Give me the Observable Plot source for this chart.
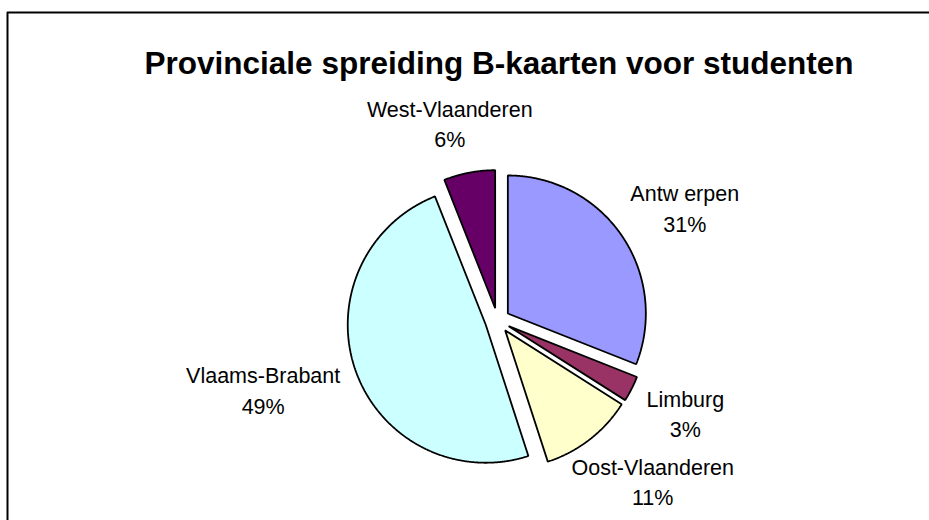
<!DOCTYPE html>
<html><head><meta charset="utf-8">
<script src="https://cdn.jsdelivr.net/npm/d3@7"></script>
<script src="https://cdn.jsdelivr.net/npm/@observablehq/plot@0.6"></script>
<style>
html,body{margin:0;padding:0;background:#fff;overflow:hidden;}
svg{display:block;}
</style></head><body>
<div id="chart"></div>
<script>
// ---- data ----
const title = "Provinciale spreiding B-kaarten voor studenten";
const provinces = ["Antwerpen", "Limburg", "Oost-Vlaanderen", "Vlaams-Brabant", "West-Vlaanderen"];
const labelNames = ["Antw erpen", "Limburg", "Oost-Vlaanderen", "Vlaams-Brabant", "West-Vlaanderen"];
const shares = [31, 3, 11, 49, 6];
// ---- style ----
const colors = ["#9999FF", "#993366", "#FFFFCC", "#CCFFFF", "#660066"];
const font = "Liberation Sans, Arial, sans-serif";
const labelSize = 21.5;
// ---- layout (pixel units relative to pie centre) ----
const W = 929, H = 520, cx = 497, cy = 320;
const R = 138, explode = 12.5, labelR = 172, labelHalfH = 30;
const frameLeft = 7 - cx, frameTop = 12 - cy;
const framePath = [
  {x: frameLeft, y: H - cy + 20},
  {x: frameLeft, y: frameTop},
  {x: W - cx + 20, y: frameTop}
];

const total = d3.sum(shares);
let acc = 0;
const slices = provinces.map((p, i) => {
  const a0 = acc / total * 2 * Math.PI; acc += shares[i];
  const a1 = acc / total * 2 * Math.PI;
  return {p, i, a0, a1, mid: (a0 + a1) / 2};
});
function pts(s) {
  const ox = explode * Math.sin(s.mid), oy = -explode * Math.cos(s.mid);
  const out = [{x: ox, y: oy}];
  const n = Math.max(2, Math.ceil((s.a1 - s.a0) / 0.005));
  for (let k = 0; k <= n; k++) {
    const a = s.a0 + (s.a1 - s.a0) * k / n;
    out.push({x: ox + R * Math.sin(a), y: oy - R * Math.cos(a)});
  }
  return out;
}
const ctx = document.createElement("canvas").getContext("2d");
ctx.font = `${labelSize}px 'Liberation Sans'`;
const labels = slices.map(s => {
  const dx = Math.sin(s.mid), dy = -Math.cos(s.mid);
  const name = labelNames[s.i], pct = Math.round(shares[s.i] / total * 100) + "%";
  const w = Math.max(ctx.measureText(name).width, ctx.measureText(pct).width);
  return {x: dx * labelR + dx * w / 2, y: dy * labelR + dy * labelHalfH, text: name + "\n" + pct};
});

const chart = Plot.plot({
  width: W, height: H,
  margin: 0,
  style: {background: "white", fontFamily: font, overflow: "hidden"},
  x: {domain: [-cx, W - cx], range: [0, W], axis: null},
  y: {domain: [-cy, H - cy], range: [0, H], axis: null},
  marks: [
    Plot.line(framePath, {x: "x", y: "y", stroke: "#000", strokeWidth: 2, fill: "none", clip: true}),
    ...slices.map(s => Plot.line(pts(s), {x: "x", y: "y", curve: "linear-closed", fill: colors[s.i], stroke: "#000", strokeWidth: 1.8, strokeLinejoin: "miter"})),
    Plot.text(labels, {x: "x", y: "y", text: "text", fontSize: labelSize, fill: "#000", lineHeight: 1.42, fontFamily: font}),
    Plot.text([title], {text: d => d, frameAnchor: "top", dx: 34, dy: 51, fontSize: 31.5, fontWeight: "bold", fill: "#000", fontFamily: font})
  ]
});
document.getElementById("chart").appendChild(chart);
</script>
</body></html>
